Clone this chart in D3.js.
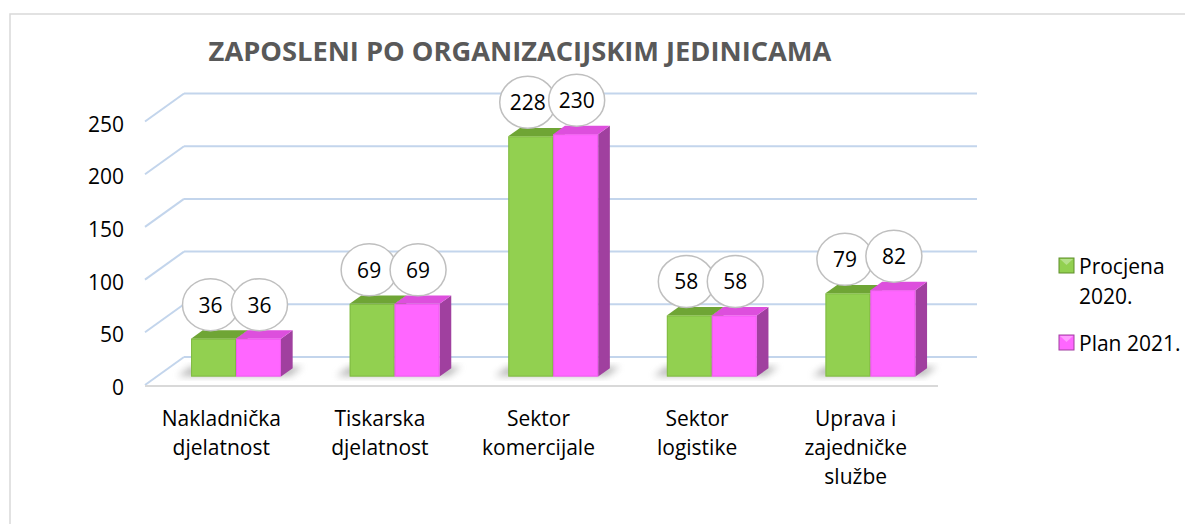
<!DOCTYPE html>
<html>
<head>
<meta charset="utf-8">
<script src="https://cdn.jsdelivr.net/npm/d3@7"></script>
<style>
    body { margin: 0; background: #fff; }
    text { font-family: "Open Sans", "Noto Sans", sans-serif; }
</style>
</head>
<body>
<div id="chart"></div>
<script>

// chart data
const categories = ["Nakladnička djelatnost", "Tiskarska djelatnost", "Sektor komercijale", "Sektor logistike", "Uprava i zajedničke službe"];
const seriesNames = ["Procjena 2020.", "Plan 2021."];
const procjena2020 = [36, 69, 228, 58, 79];
const plan2021 = [36, 69, 230, 58, 82];
const yTicks = [0, 50, 100, 150, 200, 250];

const chartTitle = "ZAPOSLENI PO ORGANIZACIJSKIM JEDINICAMA";

class BarVis3D {

    constructor(parentElement) {
        this.parentElement = parentElement;
        this.colors = [
            {front: "#92D050", top: "#6FA535", side: "#5E8E2A", light: "#B5E08A"},
            {front: "#FF66FF", top: "#DD4FDD", side: "#A0409F", light: "#FF9CFF"}
        ];
        this.initVis();
    }

    initVis() {
        let vis = this;

        vis.width = 1185;
        vis.height = 524;

        // depth of the 3d box (back wall offset)
        vis.depth = {dx: 39, dy: -28};
        vis.barF0 = 0.3;
        vis.barF1 = 0.6;

        vis.svg = d3.select("#" + vis.parentElement).append("svg")
            .attr("width", vis.width)
            .attr("height", vis.height);

        let defs = vis.svg.append("defs");
        defs.append("filter").attr("id", "blur")
            .attr("x", "-50%").attr("y", "-50%").attr("width", "200%").attr("height", "200%")
            .append("feGaussianBlur").attr("stdDeviation", 3.5);

        // outer frame
        vis.svg.append("rect")
            .attr("x", 10).attr("y", 14)
            .attr("width", 1300).attr("height", 600)
            .attr("fill", "none")
            .attr("stroke", "#D9D9D9")
            .attr("stroke-width", 1.5);

        vis.x = d3.scaleBand()
            .domain(categories)
            .range([145, 938])
            .paddingInner(0.433)
            .paddingOuter(0.2165);

        vis.xSub = d3.scaleBand()
            .domain(seriesNames)
            .range([0, vis.x.bandwidth()]);

        vis.y = d3.scaleLinear()
            .domain([0, 250])
            .range([385, 121.5]);

        vis.wrangleData();
    }

    proj(x, v, f) {
        let vis = this;
        return [x + vis.depth.dx * f, vis.y(v) + vis.depth.dy * f];
    }

    wrangleData() {
        let vis = this;
        vis.displayData = [];
        categories.forEach((c, i) => {
            [procjena2020, plan2021].forEach((arr, s) => {
                vis.displayData.push({category: c, series: seriesNames[s], s: s, value: arr[i]});
            });
        });
        vis.updateVis();
    }

    updateVis() {
        let vis = this;
        let xLeft = vis.x.range()[0], xRight = vis.x.range()[1];

        // title
        let title = vis.svg.append("text")
            .attr("x", 520)
            .attr("y", 50)
            .attr("text-anchor", "middle")
            .attr("dominant-baseline", "central")
            .style("font-weight", "bold")
            .style("font-size", "26px")
            .style("fill", "#595959")
            .text(chartTitle);
        let tw = title.node().getComputedTextLength();
        title.style("font-size", (26 * 623 / tw) + "px");

        // grid: left wall diagonals + back wall lines
        let grid = vis.svg.append("g").attr("class", "grid");
        grid.selectAll(".diag").data(yTicks).enter()
            .append("line")
            .attr("x1", d => vis.proj(xLeft, d, 0)[0])
            .attr("y1", d => vis.proj(xLeft, d, 0)[1])
            .attr("x2", d => vis.proj(xLeft, d, 1)[0])
            .attr("y2", d => vis.proj(xLeft, d, 1)[1])
            .attr("stroke", "#C3D5EC")
            .attr("stroke-width", 2);
        grid.selectAll(".back").data(yTicks).enter()
            .append("line")
            .attr("x1", d => vis.proj(xLeft, d, 1)[0])
            .attr("y1", d => vis.proj(xLeft, d, 1)[1])
            .attr("x2", d => vis.proj(xRight, d, 1)[0])
            .attr("y2", d => vis.proj(xRight, d, 1)[1])
            .attr("stroke", "#C3D5EC")
            .attr("stroke-width", 2);

        // floor front edge
        vis.svg.append("line")
            .attr("x1", xLeft).attr("y1", vis.y(0) + 1)
            .attr("x2", xRight).attr("y2", vis.y(0) + 1)
            .attr("stroke", "#D9D9D9")
            .attr("stroke-width", 2);

        // y tick labels
        vis.svg.append("g").selectAll("text").data(yTicks).enter()
            .append("text")
            .attr("x", 124)
            .attr("y", d => vis.y(d) + 2)
            .attr("text-anchor", "end")
            .attr("dominant-baseline", "central")
            .style("font-size", "21px")
            .style("fill", "#000")
            .text(d => d);

        // floor shadows per category
        vis.svg.append("g").selectAll("polygon").data(categories).enter()
            .append("polygon")
            .attr("points", d => {
                let x0 = vis.x(d), x1 = x0 + vis.x.bandwidth();
                let pts = [
                    vis.proj(x0 - 14, 0, vis.barF0 + 0.02),
                    vis.proj(x1 + 8, 0, vis.barF0 + 0.02),
                    vis.proj(x1 + 8, 0, vis.barF1 + 0.05),
                    vis.proj(x0 - 14, 0, vis.barF1 + 0.05)
                ];
                return pts.map(p => p.join(",")).join(" ");
            })
            .attr("fill", "#7F7F7F")
            .attr("opacity", 0.55)
            .attr("filter", "url(#blur)");

        // bars
        let bars = vis.svg.append("g").selectAll("g.bar").data(vis.displayData).enter()
            .append("g").attr("class", "bar");

        let poly = (pts) => pts.map(p => p.join(",")).join(" ");
        let xl = d => vis.x(d.category) + vis.xSub(d.series);
        let xr = d => xl(d) + vis.xSub.bandwidth();

        bars.append("polygon")
            .attr("points", d => poly([
                vis.proj(xr(d), 0, vis.barF0), vis.proj(xr(d), d.value, vis.barF0),
                vis.proj(xr(d), d.value, vis.barF1), vis.proj(xr(d), 0, vis.barF1)]))
            .attr("fill", d => vis.colors[d.s].side);

        bars.append("polygon")
            .attr("points", d => poly([
                vis.proj(xl(d), d.value, vis.barF0), vis.proj(xr(d), d.value, vis.barF0),
                vis.proj(xr(d), d.value, vis.barF1), vis.proj(xl(d), d.value, vis.barF1)]))
            .attr("fill", d => vis.colors[d.s].top);

        bars.append("rect")
            .attr("x", d => vis.proj(xl(d), d.value, vis.barF0)[0])
            .attr("y", d => vis.proj(xl(d), d.value, vis.barF0)[1])
            .attr("width", vis.xSub.bandwidth())
            .attr("height", d => vis.y(0) - vis.y(d.value))
            .attr("fill", d => vis.colors[d.s].front);

        // soft edge on front face
        bars.append("rect")
            .attr("x", d => vis.proj(xl(d), d.value, vis.barF0)[0] + 0.5)
            .attr("y", d => vis.proj(xl(d), d.value, vis.barF0)[1] + 0.5)
            .attr("width", vis.xSub.bandwidth() - 1)
            .attr("height", d => vis.y(0) - vis.y(d.value) - 1)
            .attr("fill", "none")
            .attr("stroke", d => vis.colors[d.s].top)
            .attr("stroke-opacity", 0.5)
            .attr("stroke-width", 1);

        // data labels in ellipses
        let labels = vis.svg.append("g").selectAll("g.lbl").data(vis.displayData).enter()
            .append("g").attr("class", "lbl")
            .attr("transform", d => {
                let p = vis.proj(xl(d) + vis.xSub.bandwidth() / 2, d.value, vis.barF0);
                let shift = d.s === 0 ? -3 : 1;
                return `translate(${p[0] + shift}, ${p[1] - 34})`;
            });
        labels.append("ellipse")
            .attr("rx", 28).attr("ry", 26)
            .attr("fill", "#fff")
            .attr("stroke", "#BFBFBF")
            .attr("stroke-width", 1.5);
        labels.append("text")
            .attr("text-anchor", "middle")
            .attr("dominant-baseline", "central")
            .style("font-size", "21px")
            .style("fill", "#000")
            .text(d => d.value);

        // category labels (wrapped)
        let catG = vis.svg.append("g").selectAll("text").data(categories).enter()
            .append("text")
            .attr("x", d => vis.x(d) + vis.x.bandwidth() / 2 - 3)
            .attr("y", 418)
            .attr("text-anchor", "middle")
            .style("font-size", "21px")
            .style("fill", "#000");
        catG.each(function (d) {
            vis.wrap(d3.select(this), d, 125, 29);
        });

        // legend
        let legend = vis.svg.append("g").attr("class", "legend")
            .attr("transform", "translate(1059, 258)");
        let legendRows = [
            {name: seriesNames[0], s: 0, y: 0},
            {name: seriesNames[1], s: 1, y: 77}
        ];
        let items = legend.selectAll("g").data(legendRows).enter()
            .append("g")
            .attr("transform", d => `translate(0, ${d.y})`);
        items.append("rect")
            .attr("width", 15).attr("height", 15)
            .attr("fill", d => vis.colors[d.s].front)
            .attr("stroke", d => vis.colors[d.s].side)
            .attr("stroke-width", 1);
        items.append("polygon")
            .attr("points", "1,1 14,1 7.5,7")
            .attr("fill", d => vis.colors[d.s].light);
        items.append("text")
            .attr("x", 20)
            .attr("y", 7.5)
            .style("font-size", "21px")
            .style("fill", "#000")
            .each(function (d) {
                vis.wrap(d3.select(this), d.name, 112, 30, true);
            });
    }

    wrap(textSel, str, maxWidth, lineHeight, leftAlign) {
        let words = str.split(" ");
        let lines = [];
        let line = [];
        let probe = textSel.append("tspan");
        words.forEach(w => {
            let test = line.concat([w]).join(" ");
            probe.text(test);
            if (probe.node().getComputedTextLength() > maxWidth && line.length) {
                lines.push(line.join(" "));
                line = [w];
            } else {
                line.push(w);
            }
        });
        lines.push(line.join(" "));
        probe.remove();
        let x = textSel.attr("x");
        lines.forEach((l, i) => {
            textSel.append("tspan")
                .attr("x", x)
                .attr("dy", i === 0 ? 0 : lineHeight)
                .attr("dominant-baseline", "central")
                .text(l);
        });
    }
}

new BarVis3D("chart");
</script>
</body>
</html>
